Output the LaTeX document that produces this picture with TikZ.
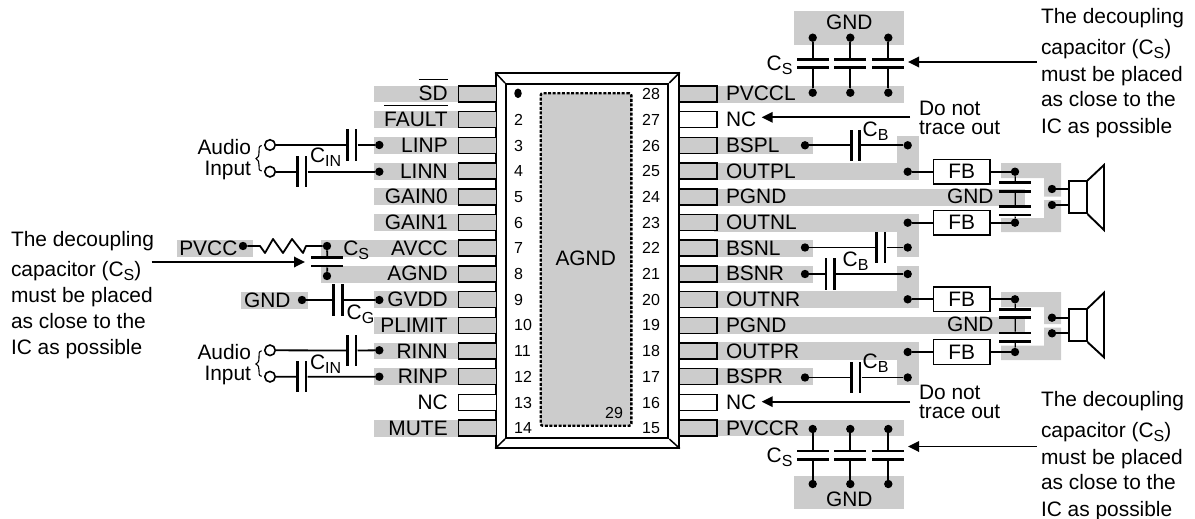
\documentclass[tikz,border=0pt]{standalone}
\usepackage{fontspec}
\setmainfont{Liberation Sans}
\usetikzlibrary{arrows.meta,shapes.geometric}
\definecolor{band}{HTML}{CCCCCC}
\newcommand{\txtsize}{\fontsize{20.9}{24}\selectfont}
\newcommand{\subC}[1]{C\raisebox{-4pt}{\fontsize{16}{16}\selectfont #1}}
\newcommand{\ovl}[1]{\setbox0=\hbox{#1}\rlap{\rule[20.6pt]{\wd0}{1.5pt}}\box0}
\tikzset{
  x=1pt,y=-1pt,
  lbl/.style={inner sep=0pt,outer sep=0pt,font=\txtsize,text=black},
  ll/.style={lbl,anchor=base east},
  rl/.style={lbl,anchor=base west},
  pinnum/.style={inner sep=0pt,anchor=base west,font=\fontsize{16}{18}\selectfont,text=black},
  pinbox/.style={draw=black,line width=1.5pt,fill=band,minimum width=38pt,minimum height=16pt,inner sep=0pt},
  dotn/.style={circle,fill=black,inner sep=0pt,minimum size=8.4pt},
  opn/.style={circle,draw=black,fill=white,line width=1.6pt,inner sep=0pt,minimum size=10.5pt},
  vplate/.style={fill=black,inner sep=0pt,minimum width=2.6pt,minimum height=31.5pt},
  hplate/.style={fill=black,inner sep=0pt,minimum width=32pt,minimum height=2.6pt},
  wire/.style={line width=1.8pt},
  arr/.style={line width=1.8pt,-{Triangle[length=11pt,width=10.5pt]}},
  fbbox/.style={draw=black,line width=1.6pt,fill=white,minimum width=56.7pt,minimum height=24.7pt,inner sep=0pt,font=\txtsize,text=black},
  spkbox/.style={draw=black,line width=1.7pt,fill=white,minimum width=17.4pt,minimum height=32pt,inner sep=0pt},
}
\begin{document}
\begin{tikzpicture}
\useasboundingbox (0,0) rectangle (1195,519);
% ---- gray copper bands
\begin{scope}[band]
\foreach \r in {1,2,3,4,5,6,9,10,11,12,14}{
  \pgfmathsetmacro{\yy}{94+25.7*(\r-1)}
  \fill (374,\yy-8.4) rectangle (460,\yy+8.4);
}
\fill (321,240) rectangle (460,256.7);
\fill (321,265.7) rectangle (460,282.7);
\fill (177,240) rectangle (252.7,256.7);
\fill (241,291.7) rectangle (307.7,308.7);
\fill (714,86) rectangle (904,102.7);
\fill (714,419.7) rectangle (904,436.4);
\fill (794,11) rectangle (904,45);
\fill (794,476) rectangle (904,509.3);
\fill (714,137) rectangle (812.7,154);
\fill (714,163) rectangle (919,180);
\fill (897,136) rectangle (919,180);
\fill (714,189) rectangle (1025,206);
\fill (714,214) rectangle (919,232);
\fill (714,240) rectangle (812.7,256.7);
\fill (897,214) rectangle (919,256.7);
\fill (714,266) rectangle (812.7,283);
\fill (714,291) rectangle (919,308);
\fill (897,266) rectangle (919,308);
\fill (714,317) rectangle (1025,334);
\fill (714,342) rectangle (919,360);
\fill (714,368) rectangle (812.7,385);
\fill (897,342) rectangle (919,385);
\fill (1001,163) -- (1061,163) -- (1061,196.5) -- (1044,196.5) -- (1044,178) -- (1001,178) -- cycle;
\fill (1001,232) -- (1061,232) -- (1061,200) -- (1044,200) -- (1044,218) -- (1001,218) -- cycle;
\fill (1001,292) -- (1061,292) -- (1061,324) -- (1044,324) -- (1044,307) -- (1001,307) -- cycle;
\fill (1001,360) -- (1061,360) -- (1061,327.7) -- (1044,327.7) -- (1044,345.7) -- (1001,345.7) -- cycle;
\end{scope}
% ---- package
\node[draw=black,line width=1.7pt,fill=white,inner sep=0pt,minimum width=183pt,minimum height=374.4pt] (pkg) at (587.5,260.5) {};
\node[draw=black,line width=2pt,fill=white,inner sep=0pt,minimum width=162.3pt,minimum height=354pt] (die) at (587.15,261) {};
\draw[line width=1.5pt] (pkg.north west) -- (die.north west) (pkg.north east) -- (die.north east)
  (pkg.south west) -- (die.south west) (pkg.south east) -- (die.south east);
\node[draw=black,fill=band,line width=2.4pt,dash pattern=on 3pt off 1.6pt,rounded corners=2pt,inner sep=0pt,minimum width=90.6pt,minimum height=332.4pt] (pad) at (586,259.5) {};
\node[lbl] (agnd) at (585.7,258) {AGND};
\node[pinnum,anchor=center] (n29) at (614,413) {29};
\node[inner sep=0pt,fill=black,ellipse,minimum width=7.5pt,minimum height=9.5pt] (pin1mark) at (518,93.3) {};
% ---- left pins
\foreach \r/\t in {1/\ovl{SD},2/\ovl{FAULT},3/LINP,4/LINN,5/GAIN0,6/GAIN1,7/AVCC,8/AGND,9/GVDD,10/PLIMIT,11/RINN,12/RINP,13/NC,14/MUTE}{
  \pgfmathsetmacro{\yy}{94+25.7*(\r-1)}
  \node[pinbox,anchor=east] (L\r) at (497,\yy) {};
  \node[ll] (Lt\r) at (447.7,\yy+7) {\t};
}
\node[pinbox,fill=white,anchor=east] at (L13.east) {};
\foreach \r in {2,3,...,14}{
  \pgfmathsetmacro{\yy}{94+25.7*(\r-1)}
  \node[pinnum] (Ln\r) at (514,\yy+5.6) {\r};
}
% ---- right pins
\foreach \r/\n/\t in {1/28/PVCCL,2/27/NC,3/26/BSPL,4/25/OUTPL,5/24/PGND,6/23/OUTNL,7/22/BSNL,8/21/BSNR,9/20/OUTNR,10/19/PGND,11/18/OUTPR,12/17/BSPR,13/16/NC,14/15/PVCCR}{
  \pgfmathsetmacro{\yy}{94+25.7*(\r-1)}
  \node[pinbox,anchor=west] (R\r) at (678,\yy) {};
  \node[rl] (Rt\r) at (726,\yy+7) {\t};
  \node[pinnum] (Rn\r) at (642,\yy+5.6) {\n};
}
\node[pinbox,fill=white,anchor=west] at (R2.west) {};
\node[pinbox,fill=white,anchor=west] at (R13.west) {};
% ---- left inputs
\node[lbl,anchor=base east] (aud1) at (251,154) {Audio};
\node[lbl,anchor=base east] (inp1) at (251,175) {Input};
\draw[line width=1.1pt] (261.7,145.5) .. controls (258.5,146) and (259,149) .. (259,152) .. controls (259,155.5) and (258.5,158) .. (256,158.7) .. controls (258.5,159.5) and (259,162) .. (259,165) .. controls (259,168) and (258.5,170.5) .. (261.7,171);
\node[opn] (a1) at (270,145) {};
\node[opn] (a2) at (270,171.7) {};
\node[dotn] (b1) at (379.3,145) {};
\node[dotn] (b2) at (379.3,171.7) {};
\node[vplate] (c1a) at (347.3,145) {};
\node[vplate] (c1b) at (356,145) {};
\node[vplate] (c2a) at (297.3,171.7) {};
\node[vplate] (c2b) at (306,171.7) {};
\draw[wire] (a1) -- (c1a) (c1b) -- (b1) (a2) -- (c2a) (c2b) -- (b2);
\node[rl] (cin1) at (310,162.7) {\subC{IN}};
% audio 2
\draw[line width=1.1pt] (261.7,350.8) .. controls (258.5,351.3) and (259,354.3) .. (259,357.3) .. controls (259,360.8) and (258.5,363.3) .. (256,364) .. controls (258.5,364.8) and (259,367.3) .. (259,370.3) .. controls (259,373.3) and (258.5,375.8) .. (261.7,376.3);
\node[lbl,anchor=base east] (aud2) at (251,359) {Audio};
\node[lbl,anchor=base east] (inp2) at (251,380) {Input};
\node[opn] (a3) at (270,350.3) {};
\node[opn] (a4) at (270,376.7) {};
\node[dotn] (b3) at (379.3,350.3) {};
\node[dotn] (b4) at (379.3,376.7) {};
\node[vplate] (c3a) at (347.3,350.5) {};
\node[vplate] (c3b) at (356,350.5) {};
\node[vplate] (c4a) at (297.3,376.7) {};
\node[vplate] (c4b) at (306,376.7) {};
\draw[wire] (a3) -- (c3a) (c3b) -- (b3) (a4) -- (c4a) (c4b) -- (b4);
\node[rl] (cin2) at (310,369.3) {\subC{IN}};
% PVCC / AVCC
\node[rl] (pvcc) at (179.3,255) {PVCC};
\node[dotn] (pd) at (243,246) {};
\node[dotn] (ad) at (327,246) {};
\node[dotn] (gd) at (327,276) {};
\node[hplate] (cs1) at (327.3,257.3) {};
\node[hplate] (cs2) at (327.3,266) {};
\draw[wire,line join=round] (pd) -- (260,246) -- (265,253) -- (273,239) -- (283,253) -- (292,239) -- (303,253) -- (306,246) -- (ad);
\draw[wire] (ad) -- (cs1) (cs2) -- (gd);
\node[rl] (csl) at (343.3,255) {\subC{S}};
\coordinate (ln) at (151.7,262);
\coordinate (lt) at (305,262);
\draw[arr] (ln) -- (lt);
% GVDD
\node[rl] (gnd9) at (244,307.7) {GND};
\node[dotn] (g1) at (302,300) {};
\node[dotn] (g2) at (379.3,300) {};
\node[vplate] (cga) at (333.3,300) {};
\node[vplate] (cgb) at (342.3,300) {};
\draw[wire] (g1) -- (cga) (cgb) -- (g2);
\node[rl] (cg) at (346.7,319) {\subC{G}};
% left note
\foreach \i/\yy/\t in {1/246/The decoupling,2/276.7/capacitor (\subC{S}),3/302.7/must be placed,4/328/as close to the,5/354/IC as possible}{
  \node[rl] (nl\i) at (11,\yy) {\t};
}
% top-right note
\foreach \i/\yy/\t in {1/24/The decoupling,2/55/capacitor (\subC{S}),3/81.7/must be placed,4/106.7/as close to the,5/133/IC as possible}{
  \node[rl] (nt\i) at (1041,\yy) {\t};
}
\foreach \i/\yy/\t in {1/406.7/The decoupling,2/437/capacitor (\subC{S}),3/464/must be placed,4/489/as close to the,5/516/IC as possible}{
  \node[rl] (nb\i) at (1041,\yy) {\t};
}
% top decoupling caps
\node[lbl,anchor=base] (gndt) at (849.3,29.3) {GND};
\node[lbl,anchor=base] (gndb) at (849.3,506.7) {GND};
\node[rl] (cst) at (766.7,70.7) {\subC{S}};
\node[rl] (csb) at (766.7,462.7) {\subC{S}};
\foreach \k/\xx in {1/812.7,2/850.3,3/888.3}{
  \node[dotn] (tu\k) at (\xx,37.7) {};
  \node[dotn] (td\k) at (\xx,92.7) {};
  \node[hplate] (tp\k) at (\xx,59.3) {};
  \node[hplate] (tq\k) at (\xx,67.7) {};
  \draw[wire] (tu\k) -- (tp\k) (tq\k) -- (td\k);
  \node[dotn] (bu\k) at (\xx,429) {};
  \node[dotn] (bd\k) at (\xx,484) {};
  \node[hplate] (bp\k) at (\xx,451) {};
  \node[hplate] (bq\k) at (\xx,459.3) {};
  \draw[wire] (bu\k) -- (bp\k) (bq\k) -- (bd\k);
}
\coordinate (ttail) at (1036.7,62); \coordinate (ttip) at (908,62);
\coordinate (btail) at (1036.7,446.5); \coordinate (btip) at (908,446.5);
\draw[arr] (ttail) -- (ttip);
\draw[arr] (btail) -- (btip);
% do not trace
\node[rl] (dn1) at (919,115) {Do not};
\node[rl] (to1) at (919,134.5) {trace out};
\node[rl] (dn2) at (919,399.5) {Do not};
\node[rl] (to2) at (919,418.5) {trace out};
\coordinate (nca) at (910,117.3); \coordinate (ncb) at (761.7,117.3);
\coordinate (ncc) at (910,401.7); \coordinate (ncd) at (761.7,401.7);
\draw[arr] (nca) -- (ncb);
\draw[arr] (ncc) -- (ncd);
% bootstrap caps
\foreach \k/\yy/\xa/\xb in {1/145.3/851.7/859.7,2/247.5/876.7/885,3/274/826/834.3,4/377.5/851.5/860}{
  \node[dotn] (bl\k) at (805,\yy) {};
  \node[dotn] (br\k) at (907.7,\yy) {};
  \node[vplate] (ba\k) at (\xa,\yy) {};
  \node[vplate] (bb\k) at (\xb,\yy) {};
  \draw[wire] (bl\k) -- (ba\k) (bb\k) -- (br\k);
}
\node[rl] (cb1) at (862.7,136.7) {\subC{B}};
\node[rl] (cb2) at (842.7,266) {\subC{B}};
\node[rl] (cb3) at (862.7,368.3) {\subC{B}};
% output filters
\foreach \s/\ya/\yb/\pa/\pb/\pc/\pd/\gy/\da/\db/\sy/\conea/\coneb in {
  u/171.7/222.7/182.7/191.3/206.7/215/203.3/189/205/197.3/165/230,
  d/299.3/352/309.3/317.7/333/341.7/331.7/317.7/333.3/325.3/292.7/357.3}{
  \node[dotn] (\s i1) at (907.7,\ya) {};
  \node[dotn] (\s i2) at (907.7,\yb) {};
  \node[fbbox] (\s fb1) at (961.7,\ya) {FB};
  \node[fbbox] (\s fb2) at (961.7,\yb) {FB};
  \node[dotn] (\s o1) at (1015,\ya) {};
  \node[dotn] (\s o2) at (1015,\yb) {};
  \node[hplate] (\s p1) at (1015.3,\pa) {};
  \node[hplate] (\s p2) at (1015.3,\pb) {};
  \node[hplate] (\s p3) at (1015.3,\pc) {};
  \node[hplate] (\s p4) at (1015.3,\pd) {};
  \node[rl] (\s gnd) at (947,\gy) {GND};
  \draw[wire] (\s i1) -- (\s fb1) (\s fb1) -- (\s o1) (\s i2) -- (\s fb2) (\s fb2) -- (\s o2);
  \draw[line width=1.2pt] (\s o1) -- (\s p1) (\s p2) -- (\s p3) (\s p4) -- (\s o2);
  \node[dotn] (\s s1) at (1052,\da) {};
  \node[dotn] (\s s2) at (1052,\db) {};
  \node[spkbox] (\s spk) at (1078,\sy) {};
  \draw[wire] (\s s1) -- (\s s1 -| \s spk.west);
  \draw[wire] (\s s2) -- (\s s2 -| \s spk.west);
  \draw[line width=1.9pt,line join=miter] (\s spk.north east) -- (1104,\conea) -- (1104,\coneb) -- (\s spk.south east);
}
\end{tikzpicture}
\end{document}
